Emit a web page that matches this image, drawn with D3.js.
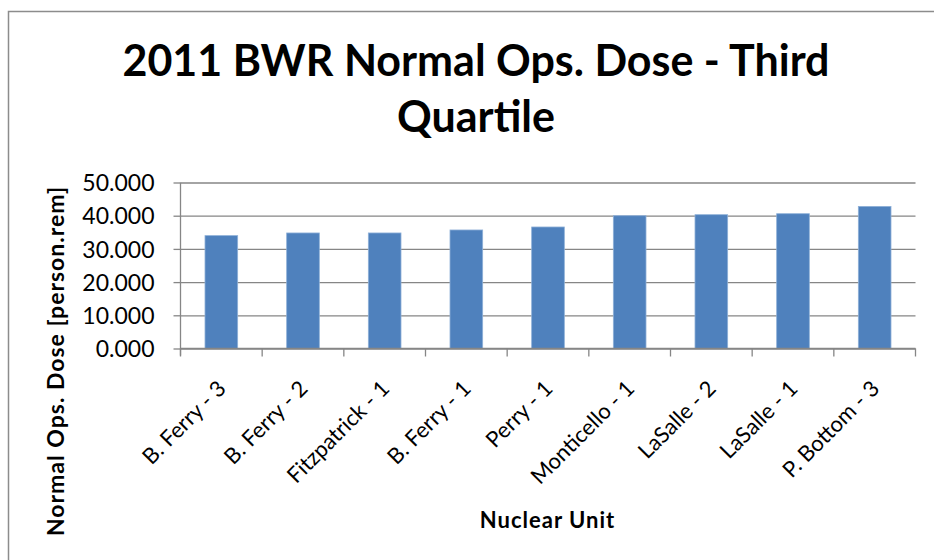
<!DOCTYPE html>
<html>
<head>
<meta charset="utf-8">
<script src="https://cdn.jsdelivr.net/npm/d3@7"></script>
<style>
	body { margin: 0; background: #fff; }
	text { font-family: Lato, "Open Sans", sans-serif; fill: #000; }
</style>
</head>
<body>
<div class="chart-container"></div>
<script>
// Data
const units = ['B. Ferry - 3', 'B. Ferry - 2', 'Fitzpatrick - 1', 'B. Ferry - 1', 'Perry - 1',
	'Monticello - 1', 'LaSalle - 2', 'LaSalle - 1', 'P. Bottom - 3'];
const doses = [34.0, 34.8, 34.8, 35.7, 36.6, 40.0, 40.3, 40.6, 42.8];
const yTicks = [0, 10, 20, 30, 40, 50];
const titleLines = ['2011 BWR Normal Ops. Dose - Third', 'Quartile'];

// Dimensions
const W = 934, H = 560;
const plot = {left: 180.5, right: 915.5, top: 182.5, bottom: 348.5};

const data = units.map((u, i) => ({unit: u, dose: doses[i]}));

// Scales
const xScale = d3.scaleBand()
	.domain(units)
	.range([plot.left, plot.right])
	.paddingInner(0.6)
	.paddingOuter(0.3);

const yScale = d3.scaleLinear()
	.domain([0, 50])
	.range([plot.bottom, plot.top]);

const svg = d3.select('.chart-container')
	.append('svg')
	.attr('width', W)
	.attr('height', H);

svg.append('rect').attr('width', W).attr('height', H).attr('fill', '#fff');

// Chart frame (only left and top show)
svg.append('path')
	.attr('d', `M8.5,${H + 5} V11.5 H${W + 5}`)
	.attr('fill', 'none')
	.attr('stroke', '#8c8c8c')
	.attr('stroke-width', 1.5);

// Title
const title = svg.append('text')
	.attr('text-anchor', 'middle')
	.style('font-size', '43px')
	.style('font-weight', 'bold');
titleLines.forEach((t, i) => {
	title.append('tspan').attr('x', 476).attr('y', 76 + i * 56).text(t);
});

// Gridlines + y axis
const yAxis = d3.axisLeft(yScale)
	.tickValues(yTicks)
	.tickFormat(d3.format('.3f'))
	.tickSizeInner(-(plot.right - plot.left))
	.tickSizeOuter(0);

const yAxisG = svg.append('g')
	.attr('class', 'y axis')
	.attr('transform', `translate(${plot.left},0)`)
	.call(yAxis);
yAxisG.select('.domain').remove();
yAxisG.selectAll('line').attr('stroke', '#868686').attr('stroke-width', 1.3);
yAxisG.selectAll('text')
	.attr('x', -26)
	.attr('dy', '0.36em')
	.style('font-size', '23px')
	.style('font-family', 'Lato, sans-serif');
// little outside ticks
yAxisG.selectAll('.tick').append('line')
	.attr('x1', -7).attr('x2', 0)
	.attr('stroke', '#868686').attr('stroke-width', 1.3);

// Bars
svg.append('g')
	.attr('class', 'bars')
	.selectAll('rect')
	.data(data)
	.enter()
	.append('rect')
	.attr('x', d => xScale(d.unit))
	.attr('y', d => yScale(d.dose))
	.attr('width', xScale.bandwidth())
	.attr('height', d => yScale(0) - yScale(d.dose))
	.attr('fill', '#4f81bd')
	.attr('stroke', '#8eb0d8')
	.attr('stroke-width', 0.8);

// Axes lines
svg.append('line')
	.attr('x1', plot.left).attr('x2', plot.left)
	.attr('y1', plot.top).attr('y2', plot.bottom + 7)
	.attr('stroke', '#868686').attr('stroke-width', 1.3);
svg.append('line')
	.attr('x1', plot.left).attr('x2', plot.right)
	.attr('y1', plot.bottom).attr('y2', plot.bottom)
	.attr('stroke', '#868686').attr('stroke-width', 1.3);

// x ticks at category boundaries
const step = (plot.right - plot.left) / units.length;
svg.append('g')
	.selectAll('line')
	.data(d3.range(units.length + 1))
	.enter()
	.append('line')
	.attr('x1', i => plot.left + i * step)
	.attr('x2', i => plot.left + i * step)
	.attr('y1', plot.bottom)
	.attr('y2', plot.bottom + 8)
	.attr('stroke', '#868686').attr('stroke-width', 1.3);

// x labels, rotated
svg.append('g')
	.selectAll('text')
	.data(units)
	.enter()
	.append('text')
	.attr('transform', d => `translate(${xScale(d) + xScale.bandwidth() / 2 + 6}, 390) rotate(-45)`)
	.attr('text-anchor', 'end')
	.style('font-size', '22px')
	.text(d => d);

// Axis titles
svg.append('text')
	.attr('x', 547.5)
	.attr('y', 528)
	.attr('text-anchor', 'middle')
	.style('font-size', '22px')
	.style('font-weight', 'bold')
	.style('letter-spacing', '1px')
	.text('Nuclear Unit');

svg.append('text')
	.attr('transform', 'translate(64, 361) rotate(-90)')
	.attr('text-anchor', 'middle')
	.style('font-size', '23px')
	.style('font-weight', 'bold')
	.style('letter-spacing', '1px')
	.text('Normal Ops. Dose [person.rem]');
</script>
</body>
</html>
